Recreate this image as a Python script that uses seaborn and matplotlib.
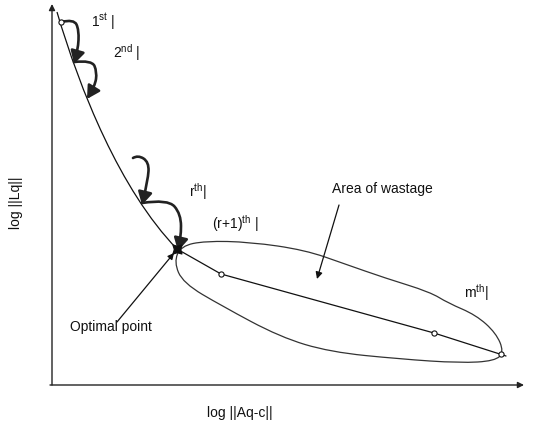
import numpy as np
import matplotlib
matplotlib.use("Agg")
import matplotlib.pyplot as plt
from matplotlib.path import Path
from matplotlib.patches import PathPatch, FancyArrowPatch
import seaborn as sns

sns.set_theme(style="white")
plt.rcParams["font.family"] = ["Liberation Sans", "DejaVu Sans"]
plt.rcParams["mathtext.fontset"] = "custom"
plt.rcParams["mathtext.rm"] = "Liberation Sans"
plt.rcParams["mathtext.it"] = "Liberation Sans:italic"

# Schematic coordinates on a 534 x 429 canvas (y grows downward)
# Residual-vs-solution-norm curve (cubic Bezier control points)
curve_x = [57, 80, 120, 177]
curve_y = [12, 90, 190, 249]
# Straight part after the optimal point
tail_x = [177, 221, 434, 506]
tail_y = [249, 274, 333, 356]
# Iterates drawn as open circles
iter_x = [61, 221, 434, 501]
iter_y = [22, 274, 333, 354]
# Optimal point
opt_x, opt_y = 177, 249

# Area of wastage outline (closed control polygon)
blob_x = [174, 181, 205, 250, 305, 345, 385, 430, 448, 476, 496, 504,
          495, 460, 400, 330, 280, 222, 183]
blob_y = [262, 246, 241, 242, 250, 264, 278, 292, 303, 315, 333, 352,
          361, 363, 359, 352, 337, 306, 283]

# Iteration hops (thick curved arrows)
hops = [
    ([61, 74, 79, 78, 74], [22, 19, 30, 50, 64]),
    ([74, 92, 97, 95, 87], [62, 60, 72, 86, 99]),
    ([133, 138, 149, 148, 142], [158, 155, 162, 180, 205]),
    ([142, 168, 181, 181, 178], [203, 199, 214, 238, 251]),
]

labels = [
    (r"1$^{\mathrm{st}}$ |", 91, 27),
    (r"2$^{\mathrm{nd}}$ |", 113, 58),
    (r"r$^{\mathrm{th}}$|", 189, 197),
    (r"(r+1)$^{\mathrm{th}}$ |", 212, 229),
    (r"m$^{\mathrm{th}}$|", 464, 298),
    ("Area of wastage", 332, 193),
    ("Optimal point", 70, 331),
]


def smooth_path(xs, ys, closed=False):
    pts = np.column_stack([xs, ys]).astype(float)
    n = len(pts)
    if closed:
        start = (pts[-1] + pts[0]) / 2
        verts, codes = [start], [Path.MOVETO]
        for i in range(n):
            nxt = pts[(i + 1) % n]
            verts += [pts[i], (pts[i] + nxt) / 2]
            codes += [Path.CURVE3, Path.CURVE3]
        return Path(verts, codes)
    verts, codes = [pts[0]], [Path.MOVETO]
    for i in range(1, n - 2):
        verts += [pts[i], (pts[i] + pts[i + 1]) / 2]
        codes += [Path.CURVE3, Path.CURVE3]
    verts += [pts[-2], pts[-1]]
    codes += [Path.CURVE3, Path.CURVE3]
    return Path(verts, codes)


fig = plt.figure(figsize=(5.34, 4.29), dpi=100)
ax = fig.add_axes([0, 0, 1, 1])
ax.set_xlim(0, 534)
ax.set_ylim(429, 0)
ax.axis("off")

ink = "#111111"

# Axes with arrow tips
axis_kw = dict(arrowstyle="-|>", lw=1.0, color="#222222",
               mutation_scale=9, shrinkA=0, shrinkB=0)
ax.annotate("", xy=(52, 4), xytext=(52, 385), arrowprops=axis_kw)
ax.annotate("", xy=(524, 385), xytext=(50, 385), arrowprops=axis_kw)

# Main curve
curve = Path(np.column_stack([curve_x, curve_y]),
             [Path.MOVETO, Path.CURVE4, Path.CURVE4, Path.CURVE4])
ax.add_patch(PathPatch(curve, fill=False, lw=0.9, color=ink))
sns.lineplot(x=tail_x, y=tail_y, sort=False, color=ink, lw=0.9,
             ax=ax, legend=False)

# Area of wastage outline
ax.add_patch(PathPatch(smooth_path(blob_x, blob_y, closed=True),
                       fill=False, lw=0.9, color="#333333"))

# Hops between iterates
for hx, hy in hops:
    ax.add_patch(FancyArrowPatch(path=smooth_path(hx, hy),
                                 arrowstyle="-|>,head_length=0.45,head_width=0.25",
                                 mutation_scale=17, lw=1.9, color="#222222"))

# Iterates
sns.scatterplot(x=iter_x, y=iter_y, s=14, marker="o", facecolor="white",
                edgecolor=ink, linewidth=0.8, ax=ax, zorder=5)
ax.scatter([opt_x], [opt_y], s=80, marker=(4, 1, 45), color=ink, zorder=6)

# Pointer arrows
ax.annotate("", xy=(174, 253), xytext=(117, 322),
            arrowprops=dict(arrowstyle="-|>", lw=0.9, color=ink,
                            mutation_scale=9, shrinkA=0, shrinkB=0))
ax.annotate("", xy=(317, 279), xytext=(339, 205),
            arrowprops=dict(arrowstyle="-|>", lw=0.9, color=ink,
                            mutation_scale=10, shrinkA=0, shrinkB=0))

for text, x, y in labels:
    ax.text(x, y, text, fontsize=10, ha="left", va="baseline", color=ink)

ax.text(207, 417, "log ||Aq-c||", fontsize=10, ha="left", va="baseline",
        color=ink)
ax.text(16, 203, "log ||Lq||", fontsize=10, ha="center", va="center",
        rotation=90, color=ink)

fig.savefig("out.png", dpi=100)
